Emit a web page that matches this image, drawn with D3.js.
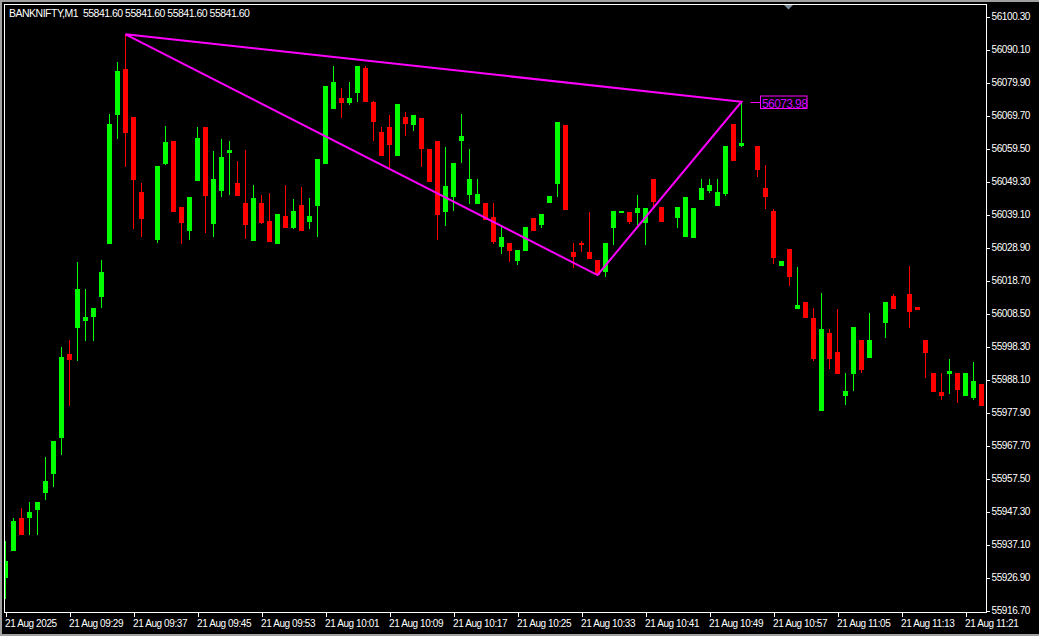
<!DOCTYPE html>
<html><head><meta charset="utf-8">
<script src="https://cdn.jsdelivr.net/npm/d3@7"></script>
<style>
html,body{margin:0;padding:0;background:#000;overflow:hidden;}
svg{display:block;}
text{font-family:"Liberation Sans",Arial,sans-serif;}
</style></head><body>
<svg id="c" width="1039" height="636"></svg>
<script>
// ---------- data ----------
const symbolTitle = "BANKNIFTY,M1";
const headerQuote = ["55841.60","55841.60","55841.60","55841.60"];
const firstBarTime = "2025-08-21 09:21";
// one entry per minute; null = no bar in that slot
const opens  = [55926.9,55935.1,55945.4,55945.3,55947.8,55953.1,55958.9,55970.1,55996.0,56004.0,
 56006.2,56007.4,56013.6,56030.0,56069.9,56084.1,56069.2,56046.1,null,56031.2,
 56054.7,56061.8,56041.4,56034.0,56049.5,56066.2,56036.2,56046.4,56058.1,56048.9,
 56042.7,56030.9,56042.7,56037.1,56030.0,56038.7,56035.0,56042.1,56036.8,56041.7,
 56054.7,56071.7,56075.1,56073.6,56076.7,56084.4,56073.9,56064.6,56066.2,56057.2,
 56069.2,56066.8,56068.9,56059.4,56061.8,56039.9,56044.5,56061.8,56045.1,56042.4,
 56042.7,56038.4,56029.1,56030.3,56024.7,56027.8,56038.1,56035.9,56042.7,56048.5,
 56066.8,56027.5,56030.3,56027.5,56025.1,56021.4,56035.0,56039.6,56039.9,56039.6,
 56036.5,56050.1,56041.4,null,56038.1,56032.2,56031.9,56043.6,56046.4,56041.7,
 56045.5,56067.1,56060.3,null,56060.3,56047.3,56040.2,56023.2,56028.4,56009.9,
 56012.1,56007.1,55978.4,56002.5,55996.6,55983.0,55989.8,56000.3,55994.8,null,
 56005.6,56013.9,null,56014.5,56010.5,56000.3,55990.1,55984.3,55989.8,55990.1,
 55983.0,55982.4,55986.7];
const highs  = [55938.2,55945.2,55948.5,55950.3,55950.3,55964.2,55969.1,55998.2,56000.3,56024.4,
 56016.1,56010.2,56025.1,56070.2,56086.2,56094.8,56069.2,56048.9,null,56054.1,
 56066.5,56061.8,56041.4,56044.5,56066.2,56066.2,56058.7,56062.5,56061.8,56055.7,
 56059.1,56048.2,56045.1,56045.8,56039.3,56048.2,56043.9,56047.6,56044.2,56056.3,
 56078.8,56085.0,56078.2,56080.1,56085.0,56085.0,56074.2,56066.2,56069.9,56073.3,
 56070.8,56069.9,56068.9,56059.4,56061.8,56060.0,56055.0,56070.2,56059.4,56050.1,
 56042.7,56042.7,56035.3,56030.3,56028.1,56035.3,56038.1,56039.3,56044.8,56067.7,
 56066.8,56030.3,56030.9,56039.9,56025.1,56030.3,56040.2,56040.2,56039.9,56045.1,
 56041.1,56050.1,56041.4,null,56041.4,56044.5,56041.1,56050.1,56050.1,56050.1,
 56060.3,56067.1,56074.0,null,56060.3,56054.4,56040.8,56024.7,56028.4,56022.9,
 56012.1,56010.2,56014.7,56003.7,56009.9,55990.1,56004.4,56000.3,56008.8,null,
 56012.1,56014.5,null,56023.2,56010.5,56000.3,55990.1,55990.1,55994.5,55990.1,
 55990.1,55993.5,55986.7];
const lows   = [55920.4,55935.1,55940.1,55940.1,55940.1,55950.9,55954.9,55964.8,55979.9,55993.9,
 56000.0,56000.0,56010.2,56030.0,56062.5,56053.8,56034.7,56032.2,null,56030.3,
 56054.4,56039.9,56030.0,56031.2,56049.5,56033.4,56032.2,56044.5,56045.1,56044.8,
 56031.6,56030.9,56036.2,56030.6,56030.0,56035.0,56034.6,56034.0,56034.6,56032.2,
 56054.7,56071.7,56068.9,56073.0,56073.9,56073.9,56061.8,56057.2,56053.2,56057.2,
 56063.4,56064.9,56053.8,56049.2,56031.2,56035.6,56040.2,56055.0,56042.4,56042.4,
 56037.4,56030.0,56026.9,56024.4,56023.5,56027.8,56034.0,56035.0,56042.7,56044.5,
 56040.5,56022.6,56027.5,56025.4,56020.4,56019.8,56029.7,56039.6,56036.2,56035.9,
 56029.7,56041.4,56036.8,null,56035.0,56032.2,56031.9,56043.6,56045.8,56041.7,
 56044.8,56055.7,56060.0,null,56050.7,56040.8,56023.8,56023.2,56016.9,56009.9,
 56007.1,55993.9,55978.4,55991.4,55989.8,55980.3,55984.6,55990.1,55994.8,null,
 56000.9,56009.9,null,56003.9,56009.6,55988.6,55984.3,55981.8,55983.6,55980.9,
 55983.0,55981.8,55979.9];
const closes = [55932.0,55944.4,55940.1,55947.2,55950.3,55956.8,55969.1,55995.1,55994.2,56016.1,
 56007.4,56010.2,56021.4,56067.1,56083.5,56064.4,56049.8,56037.8,null,56054.1,
 56061.5,56039.9,56036.5,56044.5,56062.8,56044.8,56050.1,56056.9,56059.1,56044.8,
 56035.9,56044.2,56036.5,56030.6,56039.3,56035.0,56040.2,56034.0,56038.7,56056.3,
 56078.8,56080.1,56073.6,56075.1,56085.0,56073.9,56067.7,56057.2,56060.6,56073.3,
 56067.1,56069.9,56059.4,56049.2,56038.9,56047.9,56055.0,56063.4,56050.1,56045.5,
 56037.4,56030.6,56032.2,56027.8,56028.1,56035.3,56034.0,56039.3,56044.8,56067.7,
 56040.5,56026.0,56029.7,56025.4,56020.4,56030.3,56040.2,56040.2,56036.8,56041.1,
 56041.1,56043.1,56036.8,null,56041.4,56044.5,56041.1,56047.3,56048.2,56046.1,
 56060.3,56055.7,56061.2,null,56052.9,56044.5,56025.7,56024.7,56019.8,56011.1,
 56007.1,55994.5,56003.7,55994.5,55989.8,55984.6,56004.4,55991.1,56000.3,null,
 56012.1,56009.9,null,56009.0,56009.6,55996.3,55984.3,55983.0,55990.7,55984.9,
 55990.1,55987.6,55979.9];
const priceTicks = [56100.30,56090.10,56079.90,56069.70,56059.50,56049.30,56039.10,56028.90,56018.70,
 56008.50,55998.30,55988.10,55977.90,55967.70,55957.50,55947.30,55937.10,55926.90,55916.70];
const timeTickLabels = ["21 Aug 2025","21 Aug 09:29","21 Aug 09:37","21 Aug 09:45","21 Aug 09:53",
 "21 Aug 10:01","21 Aug 10:09","21 Aug 10:17","21 Aug 10:25","21 Aug 10:33","21 Aug 10:41",
 "21 Aug 10:49","21 Aug 10:57","21 Aug 11:05","21 Aug 11:13","21 Aug 11:21"];
const timeTickStep = 8; // minutes between axis labels
// triangle object (bar index, price)
const triangleBars   = [15, 92, 74];
const trianglePrices = [56094.8, 56073.98, 56020.4];
const markerLabel = "56073.98";

// ---------- layout ----------
const W = 1039, H = 636;
const plot = {left: 4.5, top: 4.5, right: 986.5, bottom: 612.5};
const bull = "#00ff00", bear = "#ff0000", magenta = "#ff00ff";

const svg = d3.select("#c");
svg.append("rect").attr("width", W).attr("height", H).attr("fill", "#000");
// window frame
svg.append("rect").attr("x",0).attr("y",0).attr("width",W).attr("height",2).attr("fill","#a0a0a0");
svg.append("rect").attr("x",0).attr("y",0).attr("width",2).attr("height",H).attr("fill","#a0a0a0");
svg.append("rect").attr("x",0).attr("y",H-2).attr("width",W).attr("height",2).attr("fill","#a0a0a0");

const parseT = d3.timeParse("%Y-%m-%d %H:%M");
const t0 = parseT(firstBarTime);
const barTimes = opens.map((_, i) => d3.timeMinute.offset(t0, i));
const x = d3.scaleTime()
  .domain([barTimes[0], barTimes[barTimes.length - 1]])
  .range([5, 5 + 8 * (barTimes.length - 1)]);
const y = d3.scaleLinear().domain([55916.7, 56100.3]).range([610.6, 16.5]);

const bars = barTimes.map((t, i) => ({t, o: opens[i], h: highs[i], l: lows[i], c: closes[i]}))
  .filter(d => d.o != null);

svg.append("clipPath").attr("id","clip").append("rect")
  .attr("x", 5).attr("y", 5).attr("width", 981).attr("height", 607);
const g = svg.append("g").attr("clip-path","url(#clip)").attr("shape-rendering","crispEdges");

const px = d => Math.round(x(d.t));
const col = d => d.c >= d.o ? bull : bear;
g.selectAll("rect.wick").data(bars).join("rect").attr("class","wick")
  .attr("x", px).attr("width", 1)
  .attr("y", d => Math.round(y(d.h)))
  .attr("height", d => Math.max(1, Math.round(y(d.l)) - Math.round(y(d.h))))
  .attr("fill", col);
g.selectAll("rect.body").data(bars).join("rect").attr("class","body")
  .attr("x", d => px(d) - 2).attr("width", 5)
  .attr("y", d => Math.round(y(Math.max(d.o, d.c))))
  .attr("height", d => Math.max(1, Math.round(y(Math.min(d.o, d.c))) - Math.round(y(Math.max(d.o, d.c)))))
  .attr("fill", col);

// triangle
const triPts = triangleBars.map((b, i) => [Math.round(x(barTimes[b])) + 0.5, y(trianglePrices[i])]);
svg.append("path").attr("clip-path","url(#clip)")
  .attr("d", d3.line()(triPts) + "Z")
  .attr("fill","none").attr("stroke", magenta).attr("stroke-width", 2);
// price label of vertex
const bx = triPts[1][0], by = Math.round(triPts[1][1]) + 0.5;
svg.append("line").attr("x1", bx + 9).attr("x2", 760.5).attr("y1", by).attr("y2", by)
  .attr("stroke", magenta).attr("stroke-width", 1);
svg.append("rect").attr("x", 760.5).attr("y", by - 6.5).attr("width", 46.5).attr("height", 12.5)
  .attr("fill","#000").attr("stroke", magenta).attr("stroke-width", 1);
svg.append("text").attr("x", 762).attr("y", by + 5).text(markerLabel)
  .attr("fill", "#d400ff").attr("font-size", 12).attr("letter-spacing", -0.6);

// frame
svg.append("rect").attr("x", plot.left).attr("y", plot.top)
  .attr("width", plot.right - plot.left).attr("height", plot.bottom - plot.top)
  .attr("fill","none").attr("stroke","#fff").attr("stroke-width",1);

// price axis
const yAxis = svg.append("g").attr("transform", "translate(986.5,0)")
  .call(d3.axisRight(y).tickValues(priceTicks).tickFormat(d3.format(".2f")).tickSize(3).tickPadding(2));
yAxis.select(".domain").remove();
yAxis.selectAll("line").attr("stroke","#fff").attr("shape-rendering","crispEdges");
yAxis.selectAll("text").attr("fill","#fff").attr("font-size",10).attr("letter-spacing",-0.4)
  .attr("font-family",'"Liberation Sans",Arial,sans-serif');

// time axis
const tickTimes = timeTickLabels.map((_, k) => d3.timeMinute.offset(t0, k * timeTickStep));
const xAxis = svg.append("g").attr("transform", "translate(0.5,612.5)")
  .call(d3.axisBottom(x).tickValues(tickTimes).tickFormat((d, i) => timeTickLabels[i]).tickSize(4).tickPadding(3));
xAxis.select(".domain").remove();
xAxis.selectAll("line").attr("stroke","#fff").attr("shape-rendering","crispEdges");
xAxis.selectAll("text").attr("fill","#fff").attr("font-size",10).attr("letter-spacing",-0.4)
  .attr("text-anchor","start").attr("x",-1)
  .attr("font-family",'"Liberation Sans",Arial,sans-serif');

// header
svg.append("text").attr("x", 9).attr("y", 16.5)
  .text(symbolTitle + "  " + headerQuote.join(" "))
  .attr("fill","#fff").attr("font-size",10.5).attr("letter-spacing",-0.5)
  .attr("xml:space","preserve").style("white-space","pre");

// chart shift marker
svg.append("path").attr("d","M784,5L793,5L788.5,9.5Z").attr("fill","#778899");
</script>
</body></html>
